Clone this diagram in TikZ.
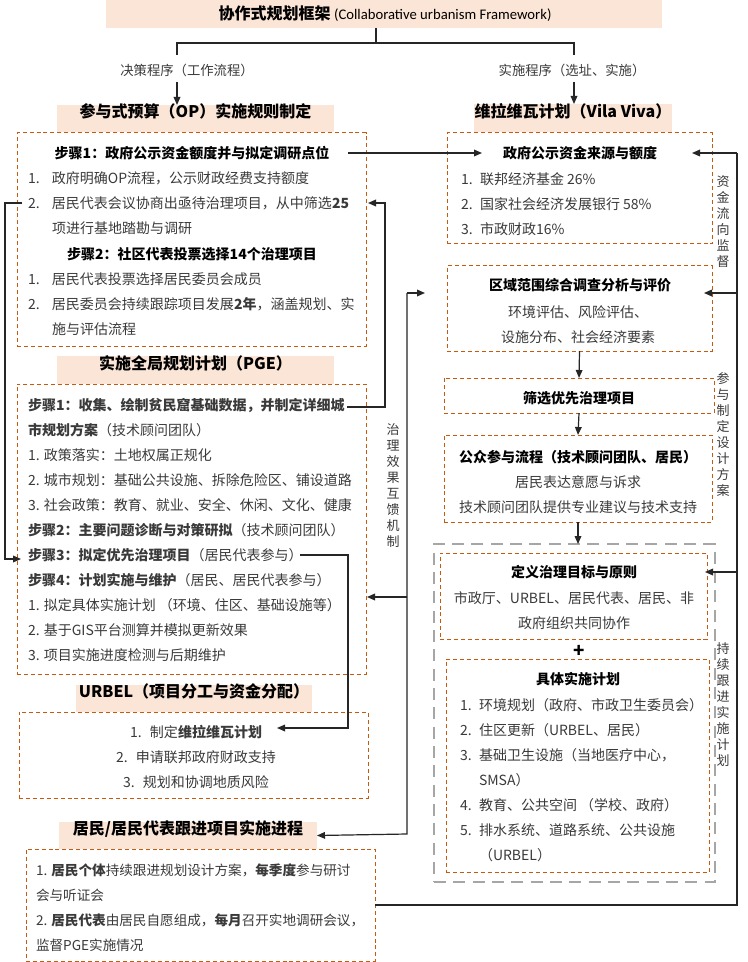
\documentclass[tikz,border=0pt]{standalone}
\usepackage{fontspec}
\setmainfont{Noto Sans CJK SC}
\newfontfamily\latinf{Carlito}
\usetikzlibrary{arrows.meta,fit}
\definecolor{peach}{HTML}{FBE5D6}
\definecolor{dorange}{HTML}{C55A11}
\definecolor{gdash}{HTML}{A6A6A6}
\definecolor{txt}{HTML}{3A3A3A}
\newcommand\numA[1]{\makebox[18pt][l]{#1}}
\newcommand\numB[1]{\makebox[14.25pt][l]{#1}}
\newcommand\numC[1]{\makebox[15pt][l]{#1}}
\begin{document}
\begin{tikzpicture}[x=0.75pt,y=-0.75pt,
 every node/.style={inner sep=0pt, outer sep=0pt},
 hdr/.style={fill=peach, font=\fontsize{12pt}{14pt}\selectfont\bfseries, text=black},
 obox/.style={draw=dorange, line width=0.75pt, dash pattern=on 3pt off 2.2pt},
 gbox/.style={draw=gdash, line width=1.9pt, dash pattern=on 9pt off 5.5pt},
 conn/.style={draw=black!85, line width=0.9pt},
 arr/.style={conn, -{Triangle[length=6pt,width=5pt]}},
 body/.style={font=\fontsize{10.5pt}{18.75pt}\selectfont, text=txt, align=left},
 bodyc/.style={body, align=center},
 bt/.style={font=\fontsize{10.5pt}{18.75pt}\selectfont\bfseries, text=black},
 vlab/.style={font=\fontsize{9.75pt}{12pt}\selectfont, text=txt, align=center},
 lab/.style={font=\fontsize{10pt}{12pt}\selectfont, text=txt}]
\fill[white] (0,0) rectangle (748,962);
\useasboundingbox (0,0) rectangle (748,962);

% ---------- top ----------
\node[hdr, fit={(106,0) (662,28)}] (title) {};
\node[font=\fontsize{12pt}{14pt}\selectfont] (titlet) at (385,14) {\textbf{协作式规划框架} {\latinf\fontsize{11pt}{13pt}\selectfont (Collaborative urbanism Framework)}};
\coordinate (j0) at (376,43);
\coordinate (jl) at (177,43);
\coordinate (jr) at (574,43);
\coordinate (jl2) at (177,55);
\coordinate (jr2) at (574,55);
\draw[conn] (title.south -| j0) -- (j0);
\draw[conn] (jl2) -- (jl) -- (jr) -- (jr2);
\node[lab] (labL) at (187,70) {决策程序（工作流程）};
\node[lab] (labR) at (572,70) {实施程序（选址、实施）};
\coordinate (aL) at (177,82);
\coordinate (aR) at (574,82);

% ---------- left: OP ----------
\node[hdr, fit={(57,105) (334,132)}] (opH) {参与式预算（OP）实施规则制定};
\node[hdr, fit={(474,104) (672,132)}] (vvH) {维拉维瓦计划（Vila Viva）};
\draw[arr] (aL) -- (aL |- opH.north);
\draw[arr] (aR) -- (aR |- vvH.north);

\node[obox, fit={(17,133) (366,346)}] (op) {};
\node[bt] (ops1) at (192,153) {步骤1：政府公示资金额度并与拟定调研点位};
\node[body, anchor=north west] (opb1) at (28,171.5) {\numA{1.}政府明确OP流程，公示财政经费支持额度\\
\numA{2.}居民代表会议协商出亟待治理项目，从中筛选\textbf{25}\\
\numA{}项进行基地踏勘与调研};
\node[bt] (ops2) at (192,254) {步骤2：社区代表投票选择14个治理项目};
\node[body, anchor=north west] (opb2) at (28,272.5) {\numA{1.}居民代表投票选择居民委员会成员\\
\numA{2.}居民委员会持续跟踪项目发展\textbf{2年}，涵盖规划、实\\
\numA{}施与评估流程};

% ---------- left: PGE ----------
\node[hdr, fit={(57,356) (334,384)}] (pgeH) {实施全局规划计划（PGE）};
\node[obox, fit={(17,384) (366,674)}] (pge) {};
\node[body, anchor=north west] (pgeb) at (28,398.5) {\textbf{步骤1：收集、绘制贫民窟基础数据，并制定详细城}\\
\textbf{市规划方案}（技术顾问团队）\\
1. 政策落实：土地权属正规化\\
2. 城市规划：基础公共设施、拆除危险区、铺设道路\\
3. 社会政策：教育、就业、安全、休闲、文化、健康\\
\textbf{步骤2：主要问题诊断与对策研拟}（技术顾问团队）\\
\textbf{步骤3：拟定优先治理项目}（居民代表参与）\\
\textbf{步骤4：计划实施与维护}（居民、居民代表参与）\\
1. 拟定具体实施计划 （环境、住区、基础设施等）\\
2. 基于GIS平台测算并模拟更新效果\\
3. 项目实施进度检测与后期维护};

% ---------- left: URBEL ----------
\node[hdr, fit={(76,685) (312,712)}] (urH) {URBEL（项目分工与资金分配）};
\node[obox, fit={(19,712) (368,798)}] (ur) {};
\node[bodyc, anchor=north] (urb) at (196,725.5) {\numC{1.}制定\textbf{维拉维瓦计划}\\
\numC{2.}申请联邦政府财政支持\\
\numC{3.}规划和协调地质风险};

% ---------- left: residents ----------
\node[hdr, fit={(59,822) (317,849)}] (reH) {居民/居民代表跟进项目实施进程};
\node[obox, fit={(26,849) (375,961)}] (re) {};
\node[body, anchor=north west, font=\fontsize{10.2pt}{18.75pt}\selectfont] (reb) at (36,863.5) {1. \textbf{居民个体}持续跟进规划设计方案，\textbf{每季度}参与研讨\\
会与听证会\\
2. \textbf{居民代表}由居民自愿组成，\textbf{每月}召开实地调研会议，\\
监督PGE实施情况};

% ---------- right column ----------
\node[obox, fit={(447,133) (712,244)}] (ba) {};
\node[bt] (bat) at (580,153) {政府公示资金来源与额度};
\node[body, anchor=north west] (bab) at (461,172.5) {\numB{1.}联邦经济基金 26\%\\
\numB{2.}国家社会经济发展银行 58\%\\
\numB{3.}市政财政16\%};

\node[obox, fit={(447,266) (712,351)}] (bb) {};
\node[bt] (bbt) at (580,285) {区域范围综合调查分析与评价};
\node[bodyc, anchor=north] (bbb) at (578,305.5) {环境评估、风险评估、\\设施分布、社会经济要素};

\node[obox, fit={(444,378) (714,413)}] (bc) {};
\node[bt] (bct) at (579,398) {筛选优先治理项目};

\node[obox, fit={(444,435) (712,522)}] (bd) {};
\node[bt] (bdt) at (578,457) {公众参与流程（技术顾问团队、居民）};
\node[bodyc, anchor=north] (bdb) at (578,475.5) {居民表达意愿与诉求\\技术顾问团队提供专业建议与技术支持};

\node[gbox, fit={(434,544) (715,882)}] (gb) {};
\node[obox, fit={(440,553) (707,639)}] (be) {};
\node[bt] (bet) at (574,572) {定义治理目标与原则};
\node[bodyc, anchor=north] (beb) at (574,591.5) {市政厅、URBEL、居民代表、居民、非\\政府组织共同协作};
\node[font=\fontsize{14pt}{14pt}\selectfont\bfseries] (plus) at (579,651) {+};
\node[obox, fit={(446,659) (709,872)}] (bf) {};
\node[bt] (bft) at (578,679) {具体实施计划};
\node[body, anchor=north west] (bfb) at (460,698.5) {\numB{1.}环境规划（政府、市政卫生委员会）\\
\numB{2.}住区更新（URBEL、居民）\\
\numB{3.}基础卫生设施（当地医疗中心，\\
\numB{}SMSA）\\
\numB{4.}教育、公共空间 （学校、政府）\\
\numB{5.}排水系统、道路系统、公共设施\\
\numB{}（URBEL）};

\draw[arr] (bb.south) -- (bc.north);
\draw[arr] (bc.south) -- (bd.north);
\draw[arr] (bd.south) -- (bd.south |- gb.north);

% ---------- connectors ----------
\coordinate (s1e) at (348,153);
\coordinate (s1t) at (482,153);
\draw[arr] (s1e) -- (s1t);

\coordinate (i2s) at (22,203);
\coordinate (k1) at (5,203);
\coordinate (k2) at (5,559);
\coordinate (s3t) at (21,559);
\draw[arr] (i2s) -- (k1) -- (k2) -- (s3t);

\coordinate (p1e) at (347,407);
\coordinate (k3) at (385,407);
\coordinate (k4) at (385,203);
\coordinate (i2t) at (368,203);
\draw[arr] (p1e) -- (k3) -- (k4) -- (i2t);

\coordinate (p3e) at (300,555);
\coordinate (k5) at (348,555);
\coordinate (k6) at (348,728);
\coordinate (u1t) at (277,728);
\draw[arr] (p3e) -- (k5) -- (k6) -- (u1t);

\coordinate (m1) at (407,293);
\coordinate (m1t) at (425,293);
\coordinate (m2) at (407,834);
\coordinate (m3) at (407,597);
\coordinate (m3t) at (367,597);
\draw[arr] (m1) -- (m1t);
\draw[arr] (m1) -- (m2) -- (reH.east);
\draw[arr] (m3) -- (m3t);

\coordinate (r0) at (737,905);
\coordinate (r1) at (737,153);
\coordinate (r1t) at (692,153);
\coordinate (r2) at (737,293);
\coordinate (r2t) at (704,293);
\coordinate (r3) at (737,572);
\coordinate (r3t) at (705,572);
\draw[conn] (re.east |- r0) -- (r0) -- (r1);
\draw[arr] (r1) -- (r1t);
\draw[arr] (r2) -- (r2t);
\draw[arr] (r3) -- (r3t);

% ---------- vertical labels ----------
\node[vlab] (v1) at (393,486) {治\\理\\效\\果\\互\\馈\\机\\制};
\node[vlab] (v2) at (723,221.5) {资\\金\\流\\向\\监\\督};
\node[vlab] (v3) at (723,435) {参\\与\\制\\定\\设\\计\\方\\案};
\node[vlab] (v4) at (723,704.5) {持\\续\\跟\\进\\实\\施\\计\\划};
\end{tikzpicture}
\end{document}
